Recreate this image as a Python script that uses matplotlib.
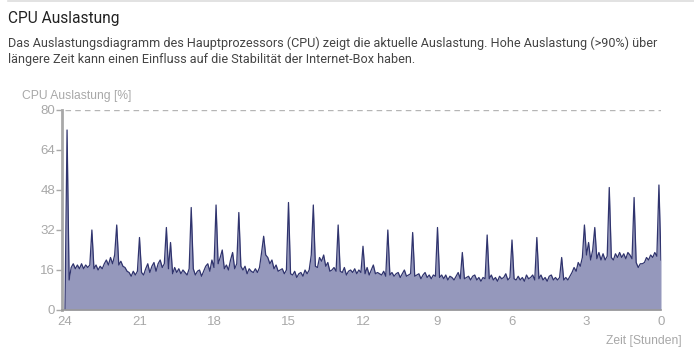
import numpy as np
import matplotlib
matplotlib.use("Agg")
import matplotlib.pyplot as plt

# CPU-Auslastung in %, alle 5 Minuten, von vor 24 Stunden bis jetzt (eine Zeile = eine Stunde)
cpu = [
    0, 72, 12, 17, 18.5, 16.5, 18, 16.5, 18.5, 16.5, 18, 17,
    18, 32, 16.5, 18, 16, 17.5, 16.5, 18.5, 20, 18, 21, 18.5,
    22, 34, 18, 19.5, 17.5, 17, 15.5, 15, 13.5, 15.5, 14, 15.5,
    29, 15, 14, 16.5, 18.5, 15, 17.5, 19, 15.5, 18.5, 20, 17,
    18.5, 33, 16.5, 27, 14.5, 17, 15, 16.5, 14.5, 16, 15, 14,
    16.5, 41, 16.5, 14, 15.5, 16, 13.5, 15.5, 17.5, 18.5, 15.5, 20,
    17, 42, 18.5, 21, 24, 16.5, 18, 16, 20, 23, 16.5, 18.5,
    39, 17.5, 16, 17.5, 14.5, 16.5, 15.5, 15, 16.5, 15, 17, 23,
    29.5, 22, 21, 18.5, 20, 16.5, 18, 15.5, 16, 16.5, 14.5, 16,
    43, 14.5, 14, 15.5, 13, 14.5, 15, 13.5, 16, 14.5, 16, 22,
    42, 17.5, 17, 21, 19.5, 22, 17.5, 19, 15.5, 16, 17, 15.5,
    34, 15.5, 15, 17, 14, 15.5, 16, 15, 16.5, 14.5, 16, 15,
    25.5, 14.5, 17, 14, 16, 18, 14.5, 15, 14.5, 14, 15.5, 13.5,
    32, 14, 15, 13.5, 14.5, 15, 13, 14.5, 16, 13.5, 14, 14.5,
    31, 13.5, 14, 14.5, 12.5, 14, 15, 13, 14, 12.5, 14, 13.5,
    33, 13, 14, 12.5, 14, 12, 13.5, 13, 12, 13.5, 15, 12.5,
    23, 12.5, 13, 13.5, 12, 13.5, 14, 12, 13, 11.5, 13, 12.5,
    30, 12.5, 14, 12, 13, 11.5, 13.5, 12.5, 13, 14.5, 12, 13,
    28, 12.5, 12, 13.5, 12, 13, 11.5, 14, 12.5, 13, 14, 12,
    29, 12.5, 14, 12, 13, 11.5, 13.5, 14, 12, 13, 12, 13,
    21, 12, 13, 12, 13.5, 15, 17, 15.5, 19, 17.5, 21, 34,
    22, 27, 20, 24, 33, 20.5, 23, 20, 22.5, 20, 21.5, 49,
    21, 20, 22.5, 21, 23, 21, 22.5, 20.5, 23, 22, 20.5, 45,
    19, 17, 18.5, 18.5, 19, 21, 20, 22, 21, 23, 21.5, 50,
    20,
]
y_ticks = [0, 16, 32, 48, 64, 80]
x_ticks = [24, 21, 18, 15, 12, 9, 6, 3, 0]

titel = "CPU Auslastung"
text1 = ("Das Auslastungsdiagramm des Hauptprozessors (CPU) zeigt die aktuelle Auslastung. "
         "Hohe Auslastung (>90%) über")
text2 = "längere Zeit kann einen Einfluss auf die Stabilität der Internet-Box haben."

stunden = 24 - np.arange(len(cpu)) * 5 / 60  # Stunden vor jetzt

W, H = 694, 355
fig = plt.figure(figsize=(W / 100, H / 100), dpi=100)

def px(x, y):
    return x / W, 1 - y / H

schmal = ["Roboto", "DejaVu Sans"]
fig.add_artist(plt.Line2D([8 / W, 1], [1 - 0.8 / H] * 2, color="#dddddd", lw=1.2))
fig.text(*px(8, 19), titel, fontsize=11.2, color="#222222", family=schmal, va="center")
fig.text(*px(8, 43), text1, fontsize=9.1, color="#444444", family=schmal, va="center")
fig.text(*px(8, 60), text2, fontsize=9.1, color="#444444", family=schmal, va="center")

grau = "#a8a8a8"
fig.text(*px(22, 96), "CPU Auslastung [%]", fontsize=8.7, color=grau,
         family="Liberation Sans", va="center")
fig.text(*px(682, 341), "Zeit [Stunden]", fontsize=8.7, color=grau,
         family="Liberation Sans", va="center", ha="right")

ax = fig.add_axes([62 / W, 1 - 310 / H, 599 / W, 200 / H])
ax.fill_between(stunden, cpu, 0, color="#9598bc", lw=0)
ax.plot(stunden, cpu, color="#30346e", lw=0.9)
ax.hlines(80, 24, 0, colors="#b5b5b5", lw=1, linestyles=(0, (4, 3)))

ax.set_xlim(24.12, 0)
ax.set_ylim(0, 80)
ax.set_yticks(y_ticks)
ax.set_xticks(x_ticks)
for s in ["top", "right"]:
    ax.spines[s].set_visible(False)
ax.spines["left"].set_color(grau)
ax.spines["left"].set_linewidth(2)
ax.spines["bottom"].set_color("#999999")
ax.spines["bottom"].set_linewidth(1.2)
ax.tick_params(axis="y", length=4, width=1, color=grau, labelcolor=grau,
               labelsize=9.5, pad=1)
ax.tick_params(axis="x", length=0, labelcolor=grau, labelsize=9.5, pad=4)
for lab in ax.get_xticklabels() + ax.get_yticklabels():
    lab.set_family("Liberation Sans")

fig.savefig("out.png", dpi=100)
